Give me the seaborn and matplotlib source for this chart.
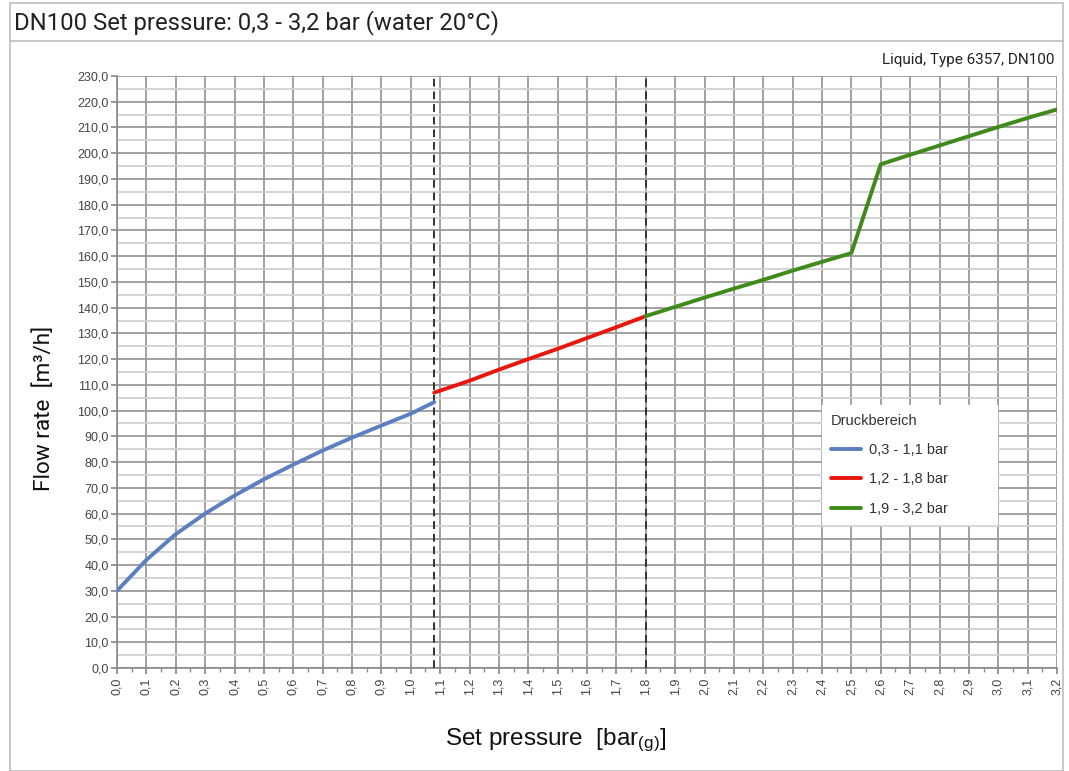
import matplotlib
matplotlib.use("Agg")
import matplotlib.pyplot as plt
import matplotlib.patches as mpatches
from matplotlib.ticker import MultipleLocator, FuncFormatter
import seaborn as sns
import pandas as pd

# Flow curve per pressure range (set pressure in bar(g), flow in m³/h)
p_low = [0.0, 0.1, 0.2, 0.3, 0.4, 0.5, 0.6, 0.7, 0.8, 0.9, 1.0, 1.08]
q_low = [30.0, 42.0, 52.0, 60.0, 67.0, 73.3, 79.0, 84.5, 89.5, 94.2, 98.8, 103.3]

p_mid = [1.08, 1.2, 1.3, 1.4, 1.5, 1.6, 1.7, 1.8]
q_mid = [107.0, 111.6, 115.9, 120.0, 124.0, 128.2, 132.4, 136.7]

p_high = [1.8, 1.9, 2.0, 2.1, 2.2, 2.3, 2.4, 2.5, 2.6, 2.7, 2.8, 2.9, 3.0, 3.1, 3.2]
q_high = [136.7, 140.3, 143.9, 147.4, 150.8, 154.4, 157.8, 161.2, 195.7, 199.4, 203.0, 206.6, 210.2, 213.7, 217.0]

range_labels = ["0,3 - 1,1 bar", "1,2 - 1,8 bar", "1,9 - 3,2 bar"]
range_colors = ["#5b7fbf", "#e8160c", "#3f8a1a"]
range_bounds = [1.08, 1.8]

sns.set_theme(style="white")
plt.rcParams["font.family"] = ["Liberation Sans", "DejaVu Sans"]
plt.rcParams["mathtext.fontset"] = "custom"
plt.rcParams["mathtext.rm"] = "Liberation Sans"
plt.rcParams["mathtext.it"] = "Liberation Sans"

frames = []
for p, q, lab in zip([p_low, p_mid, p_high], [q_low, q_mid, q_high], range_labels):
    frames.append(pd.DataFrame({"p": p, "q": q, "range": lab}))
df = pd.concat(frames, ignore_index=True)

fig = plt.figure(figsize=(10.69, 7.71), dpi=100)
ax = fig.add_axes([117 / 1069, 1 - 668 / 771, 940 / 1069, 592 / 771])

# grid: major every 10, minor every 5 on y; every 0.1 on x
ax.set_xlim(0, 3.2)
ax.set_ylim(0, 230)
ax.xaxis.set_major_locator(MultipleLocator(0.1))
ax.xaxis.set_minor_locator(MultipleLocator(0.05))
ax.yaxis.set_major_locator(MultipleLocator(10))
ax.yaxis.set_minor_locator(MultipleLocator(5))
ax.grid(which="major", axis="both", color="#9a9a9a", lw=1.3)
ax.grid(which="minor", axis="y", color="#d0d0d0", lw=1.3)
ax.set_axisbelow(True)

for b in range_bounds:
    ax.axvline(b, color="#333333", lw=1.4, ls=(0, (4, 2.5)), zorder=3)

sns.lineplot(data=df, x="p", y="q", hue="range", palette=range_colors,
             hue_order=range_labels, lw=2.8, ax=ax, sort=False,
             estimator=None, zorder=4)

def comma(v, pos):
    return f"{v:.1f}".replace(".", ",")

ax.xaxis.set_major_formatter(FuncFormatter(comma))
ax.yaxis.set_major_formatter(FuncFormatter(comma))
ax.tick_params(axis="x", which="major", labelsize=9, labelcolor="#444444",
               length=4, color="#8a8a8a", bottom=True, pad=3)
ax.tick_params(axis="x", which="minor", length=3, color="#8a8a8a", bottom=True)
ax.tick_params(axis="y", which="major", labelsize=9, labelcolor="#444444",
               length=4, color="#8a8a8a", left=True, pad=2)
for lbl in ax.get_xticklabels():
    lbl.set_rotation(90)

for side in ["top", "right"]:
    ax.spines[side].set_visible(False)
for side in ["left", "bottom"]:
    ax.spines[side].set_color("#8a8a8a")
    ax.spines[side].set_linewidth(1.2)

ax.set_xlabel("")
ax.set_ylabel("")

# legend box: left 822, top 405, width 175 px in figure pixels
leg_x0 = (822 - 117) / 940
leg_top = (668 - 405) / 592
leg_w = 175 / 940
leg = ax.legend(title="Druckbereich", loc="upper left",
                bbox_to_anchor=(leg_x0, leg_top - 0.2, leg_w, 0.2),
                mode="expand",
                frameon=True, fancybox=False, framealpha=1, edgecolor="white",
                fontsize=10.5, title_fontsize=10.5, handlelength=2.1,
                labelspacing=1.05, borderpad=0.6, handletextpad=0.5,
                borderaxespad=0)
leg._legend_box.align = "left"
leg.get_title().set_color("#333333")
for t in leg.get_texts():
    t.set_color("#333333")
for h in leg.get_lines():
    h.set_linewidth(2.8)
leg.set_zorder(5)

# outer frame and title bar
fig.patches.append(mpatches.Rectangle((10 / 1069, 0), 1053 / 1069, 1 - 3 / 771,
                                      transform=fig.transFigure, fill=False,
                                      edgecolor="#bdbdbd", lw=1.2))
fig.lines.append(plt.Line2D([10 / 1069, 1063 / 1069], [1 - 41 / 771] * 2,
                            transform=fig.transFigure, color="#bdbdbd", lw=1.2))

fig.text(14 / 1069, 1 - 23 / 771, "DN100 Set pressure: 0,3 - 3,2 bar (water 20°C)",
         family="Roboto", fontsize=17.2, color="#222222", va="center", ha="left")
fig.text(1054 / 1069, 1 - 60 / 771, "Liquid, Type 6357, DN100",
         family="Roboto", fontsize=11, color="#222222", va="center", ha="right")
fig.text(44 / 1069, 1 - 408 / 771, "Flow rate  [m³/h]", family="Roboto",
         fontsize=16.2, color="#111111", rotation=90, va="center", ha="center")
fig.text(556 / 1069, 1 - 740 / 771, r"Set pressure  [bar$_{(g)}$]",
         fontsize=17.5, color="#111111", va="center", ha="center")

fig.savefig("out.png", dpi=100)
